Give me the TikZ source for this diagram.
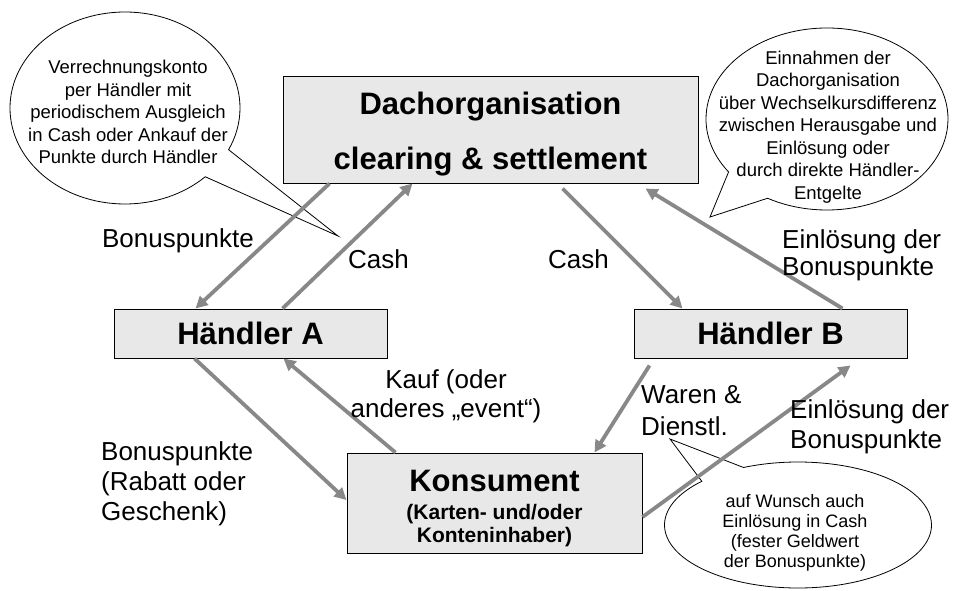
\documentclass[tikz,border=0pt]{standalone}
\usepackage{fontspec}
\setmainfont{Liberation Sans}
\usepackage{tikz}
\usetikzlibrary{arrows.meta,shapes.callouts}
\definecolor{boxGrey}{RGB}{232,232,232}
\definecolor{flowGrey}{RGB}{136,136,136}
\newcommand{\partyfont}{\fontsize{31}{36}\selectfont\bfseries}
\newcommand{\subfont}{\fontsize{21}{22.5}\selectfont\bfseries}
\newcommand{\flowfont}{\fontsize{26}{29}\selectfont}
\newcommand{\notefont}{\fontsize{18.5}{22.5}\selectfont}
\tikzset{partybox/.style={draw=black, fill=boxGrey, line width=1pt, inner sep=0pt, align=center}}
\tikzset{flow/.style={draw=flowGrey, line width=3.8pt, -{Triangle[length=12pt,width=12pt]}}}
\tikzset{bubble/.style={ellipse callout, draw=black, fill=white, line width=0.8pt, inner sep=0pt}}
\tikzset{bubbletext/.style={font=\notefont, align=center, inner sep=0pt}}
\tikzset{flowlabel/.style={font=\flowfont, align=left, inner sep=0pt}}

\begin{document}
\begin{tikzpicture}[x=1pt, y=-1pt]
		\useasboundingbox (0,0) rectangle (956,591);

		% callouts
		\coordinate (tipL) at (338,236);
		\coordinate (tipR) at (710,217);
		\coordinate (tipK) at (670,439);
		\node[bubble, minimum width=230pt, minimum height=192pt, callout pointer arc=20, callout absolute pointer={(tipL)}] (noteL) at (125,108) {};
		\node[bubble, minimum width=242pt, minimum height=182pt, callout pointer arc=25, callout absolute pointer={(tipR)}] (noteR) at (827,119) {};
		\node[bubble, minimum width=267pt, minimum height=126pt, callout pointer arc=22, callout absolute pointer={(tipK)}] (noteK) at (798,525) {};
		\node[bubbletext] (noteLtext) at (128,112) {Verrechnungskonto\\per Händler mit\\periodischem Ausgleich\\in Cash oder Ankauf der\\Punkte durch Händler};
		\node[bubbletext] (noteRtext) at (828,127) {Einnahmen der\\Dachorganisation\\über Wechselkursdifferenz\\zwischen Herausgabe und\\Einlösung oder\\durch direkte Händler-\\Entgelte};
		\node[bubbletext, font=\fontsize{18}{20}\selectfont] (noteKtext) at (795,533) {auf Wunsch auch\\Einlösung in Cash\\(fester Geldwert\\der Bonuspunkte)};

		% parties
		\node[partybox, minimum width=415pt, minimum height=106pt, font=\fontsize{31}{55}\selectfont\bfseries] (dach) at (490.5,130) {\rule{0pt}{31pt}Dachorganisation\\clearing \& settlement};
		\node[partybox, minimum width=273pt, minimum height=49pt, font=\partyfont] (haendlerA) at (250.5,333.5) {Händler A};
		\node[partybox, minimum width=273pt, minimum height=49pt, font=\partyfont] (haendlerB) at (770.5,333.5) {Händler B};
		\node[partybox, minimum width=295pt, minimum height=100pt, font=\subfont] (konsument) at (494.5,503) {{\partyfont\rule{0pt}{32pt}Konsument}\\[6pt](Karten- und/oder\\Konteninhaber)};

		% flows
		\draw[flow] ([xshift=47pt]dach.south west) -- ([xshift=82pt]haendlerA.north west);
		\draw[flow] ([xshift=169pt]haendlerA.north west) -- ([xshift=130pt]dach.south west);
		\draw[flow] ([xshift=280pt,yshift=-5pt]dach.south west) -- ([xshift=49pt]haendlerB.north west);
		\draw[flow] ([xshift=209pt]haendlerB.north west) -- ([xshift=-53pt,yshift=-5pt]dach.south east);
		\draw[flow] ([xshift=81pt]haendlerA.south west) -- ([yshift=3pt]konsument.west);
		\draw[flow] ([xshift=49pt]konsument.north west) -- ([xshift=170pt]haendlerA.south west);
		\draw[flow] ([xshift=16pt,yshift=-7pt]haendlerB.south west) -- ([xshift=-48pt]konsument.north east);
		\draw[flow] ([yshift=-14pt]konsument.east) -- ([xshift=217pt,yshift=-7pt]haendlerB.south west);
%		\draw[flow] (konsument.east) -- (haendlerB.south);

		% flow labels (base = last line)
		\node[flowlabel, anchor=base] (bonusTop) at (178,247) {Bonuspunkte};
		\node[flowlabel, anchor=base west] (cashL) at (348,268) {Cash};
		\node[flowlabel, anchor=base west] (cashR) at (548,268) {Cash};
		\node[flowlabel, anchor=base west, font=\fontsize{26}{27}\selectfont] (einlTop) at (782,275) {Einlösung der\\Bonuspunkte};
		\node[flowlabel, anchor=base, align=center] (kauf) at (446,417) {Kauf (oder\\anderes „event“)};
		\node[flowlabel, anchor=base west, font=\fontsize{26}{32}\selectfont] (waren) at (641,435) {Waren \&\\Dienstl.};
		\node[flowlabel, anchor=base west, font=\fontsize{26}{30}\selectfont] (einlBottom) at (790,448) {Einlösung der\\Bonuspunkte};
		\node[flowlabel, anchor=base west, font=\fontsize{26}{30}\selectfont] (bonusBottom) at (101,520) {Bonuspunkte\\(Rabatt oder\\Geschenk)};
	\end{tikzpicture}
\end{document}
